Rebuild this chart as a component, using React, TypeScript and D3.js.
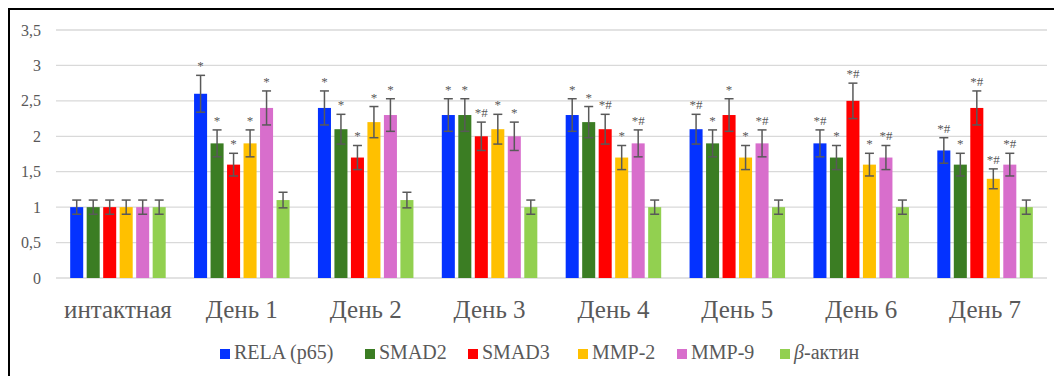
import React from 'react';
import * as d3 from 'd3';

// Categories and series
const categories = ['интактная', 'День 1', 'День 2', 'День 3', 'День 4', 'День 5', 'День 6', 'День 7'];
const seriesNames = ['RELA (p65)', 'SMAD2', 'SMAD3', 'MMP-2', 'MMP-9', 'β-актин'];
const seriesColors = ['#0432FF', '#3B7D23', '#FF0000', '#FFC000', '#D86ECC', '#92D050'];

// Values per series (one entry per category)
const relaValues = [1, 2.6, 2.4, 2.3, 2.3, 2.1, 1.9, 1.8];
const smad2Values = [1, 1.9, 2.1, 2.3, 2.2, 1.9, 1.7, 1.6];
const smad3Values = [1, 1.6, 1.7, 2.0, 2.1, 2.3, 2.5, 2.4];
const mmp2Values = [1, 1.9, 2.2, 2.1, 1.7, 1.7, 1.6, 1.4];
const mmp9Values = [1, 2.4, 2.3, 2.0, 1.9, 1.9, 1.7, 1.6];
const actinValues = [1, 1.1, 1.1, 1.0, 1.0, 1.0, 1.0, 1.0];

// Error bar half-widths
const relaErr = [0.1, 0.26, 0.24, 0.23, 0.23, 0.21, 0.19, 0.18];
const smad2Err = [0.1, 0.19, 0.21, 0.23, 0.22, 0.19, 0.17, 0.16];
const smad3Err = [0.1, 0.16, 0.17, 0.2, 0.21, 0.23, 0.25, 0.24];
const mmp2Err = [0.1, 0.19, 0.22, 0.21, 0.17, 0.17, 0.16, 0.14];
const mmp9Err = [0.1, 0.24, 0.23, 0.2, 0.19, 0.19, 0.17, 0.16];
const actinErr = [0.1, 0.11, 0.11, 0.1, 0.1, 0.1, 0.1, 0.1];

// Significance marks
const relaMarks = ['', '*', '*', '*', '*', '*#', '*#', '*#'];
const smad2Marks = ['', '*', '*', '*', '*', '*', '*', '*'];
const smad3Marks = ['', '*', '*', '*#', '*#', '*', '*#', '*#'];
const mmp2Marks = ['', '*', '*', '*', '*', '*', '*', '*#'];
const mmp9Marks = ['', '*', '*', '*', '*#', '*#', '*#', '*#'];
const actinMarks = ['', '', '', '', '', '', '', ''];

const yTicks = [0, 0.5, 1, 1.5, 2, 2.5, 3, 3.5];

const allValues = [relaValues, smad2Values, smad3Values, mmp2Values, mmp9Values, actinValues];
const allErr = [relaErr, smad2Err, smad3Err, mmp2Err, mmp9Err, actinErr];
const allMarks = [relaMarks, smad2Marks, smad3Marks, mmp2Marks, mmp9Marks, actinMarks];

const W = 1054;
const H = 376;
const plot = { left: 56, right: 1047, top: 30, bottom: 278 };
const grey = '#595959';
const serif = 'Liberation Serif';

const App = () => {
  const x0 = d3.scaleBand<string>().domain(categories).range([plot.left, plot.right]);
  const x1 = d3
    .scaleBand<number>()
    .domain(d3.range(seriesNames.length))
    .range([0, x0.bandwidth()])
    .paddingInner(0.21)
    .paddingOuter(0.86);
  const y = d3.scaleLinear().domain([0, 3.5]).range([plot.bottom, plot.top]);
  const fmt = (v: number) => String(v).replace('.', ',');

  // legend item left edges
  const legendX = [220, 365, 468, 578, 677, 780];

  return (
    <div style={{ position: 'absolute', left: 0, top: 0 }}>
      <svg width={W} height={H} style={{ display: 'block', background: '#fff' }}>
        <rect x={0} y={0} width={W} height={H} fill="#fff" />
        <rect x={9} y={9} width={W + 20} height={H + 20} fill="none" stroke="#000" strokeWidth={2} />

        {/* gridlines + y labels */}
        {yTicks.map((t) => (
          <g key={t}>
            <line x1={plot.left} x2={plot.right} y1={y(t)} y2={y(t)} stroke="#D9D9D9" strokeWidth={1.3} />
            <text x={41} y={y(t)} dy="0.35em" textAnchor="end" fontFamily={serif} fontSize={16} fill={grey}>
              {fmt(t)}
            </text>
          </g>
        ))}

        {/* bars, error bars, marks */}
        {categories.map((c, ci) => (
          <g key={c} transform={`translate(${x0(c)},0)`}>
            {seriesNames.map((s, si) => {
              const v = allValues[si][ci];
              const e = allErr[si][ci];
              const bx = x1(si) as number;
              const bw = x1.bandwidth();
              const cx = bx + bw / 2;
              const top = y(v + e);
              const bot = y(v - e);
              return (
                <g key={s}>
                  <rect x={bx} y={y(v)} width={bw} height={y(0) - y(v)} fill={seriesColors[si]} />
                  <line x1={cx} x2={cx} y1={bot} y2={top} stroke={grey} strokeWidth={1.5} />
                  <line x1={cx - 4.5} x2={cx + 4.5} y1={top} y2={top} stroke={grey} strokeWidth={1.5} />
                  <line x1={cx - 4.5} x2={cx + 4.5} y1={bot} y2={bot} stroke={grey} strokeWidth={1.5} />
                  {allMarks[si][ci] && (
                    <text x={cx} y={top - 5} textAnchor="middle" fontFamily={serif} fontSize={13} fill={grey}>
                      {allMarks[si][ci]}
                    </text>
                  )}
                </g>
              );
            })}
          </g>
        ))}

        {/* x labels */}
        {categories.map((c) => (
          <text
            key={c}
            x={(x0(c) as number) + x0.bandwidth() / 2}
            y={318}
            textAnchor="middle"
            fontFamily={serif}
            fontSize={25}
            fill={grey}
          >
            {c}
          </text>
        ))}

        {/* legend */}
        {seriesNames.map((s, si) => (
          <g key={s} transform={`translate(${legendX[si]},0)`}>
            <rect x={0} y={349} width={10} height={10} fill={seriesColors[si]} />
            <text x={14} y={359} fontFamily={serif} fontSize={20} fill={grey}>
              {si === 5 ? (
                <>
                  <tspan fontStyle="italic">β</tspan>
                  <tspan>-актин</tspan>
                </>
              ) : (
                s
              )}
            </text>
          </g>
        ))}
      </svg>
    </div>
  );
};

export default App;
